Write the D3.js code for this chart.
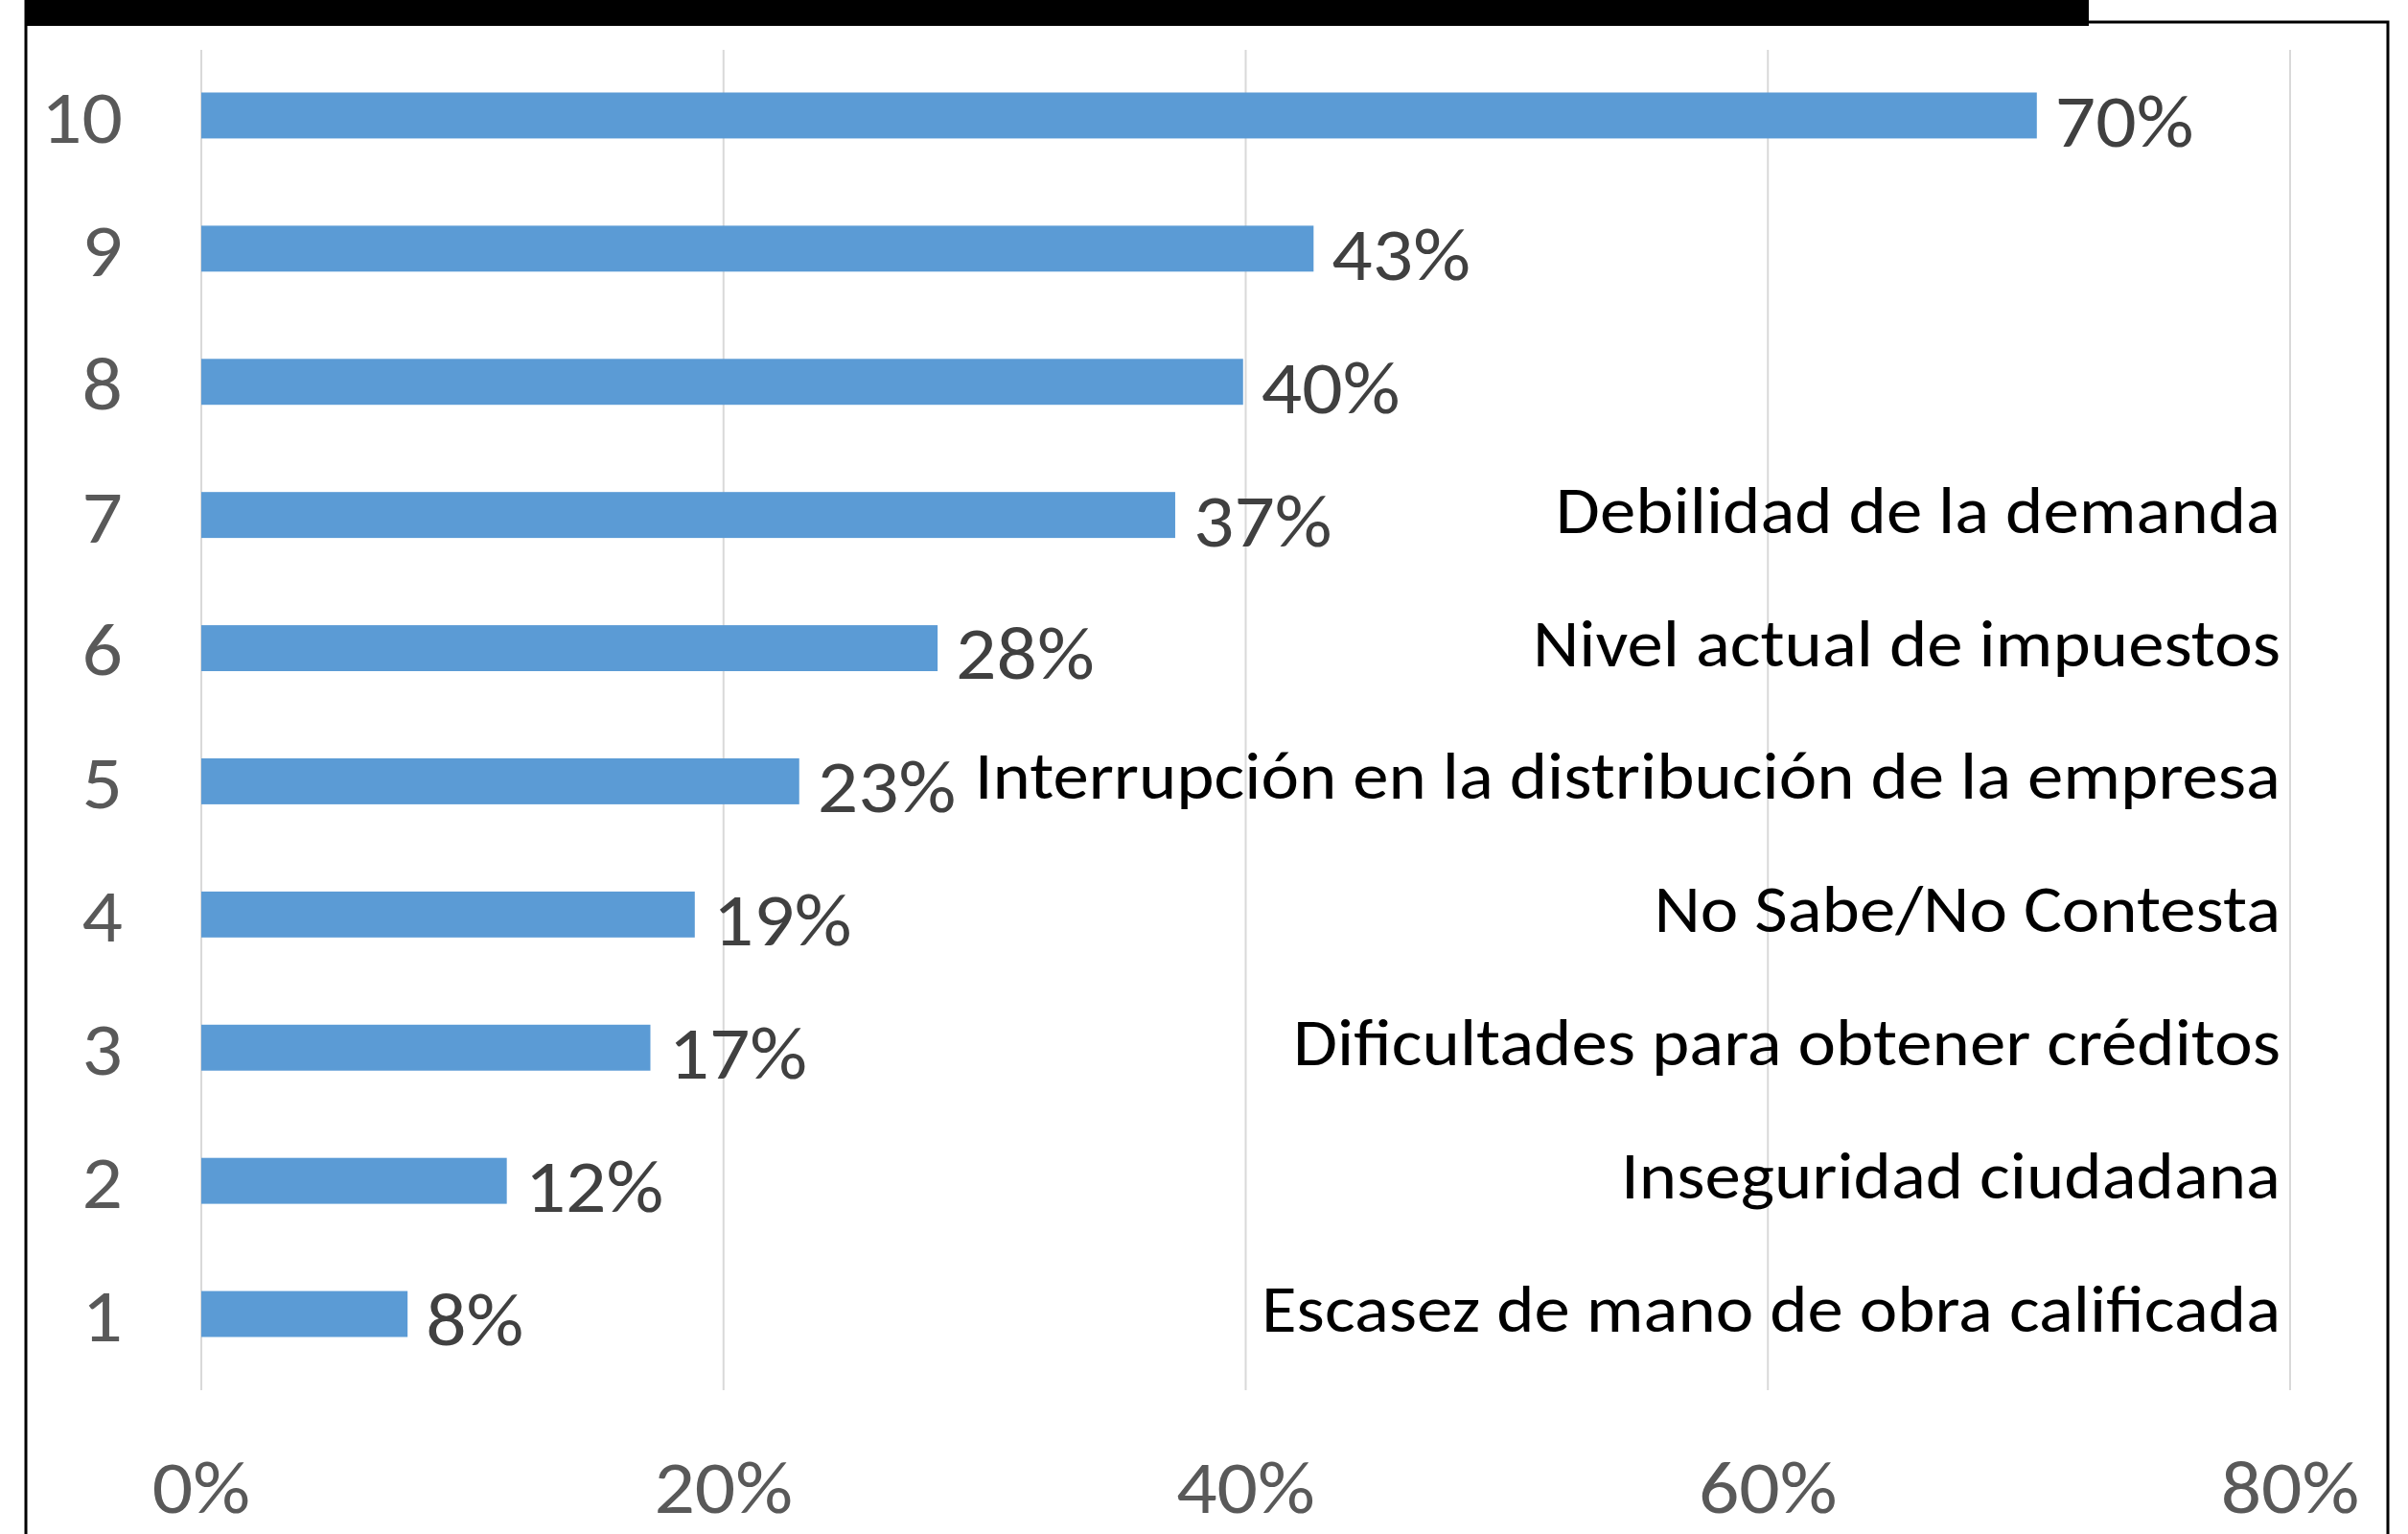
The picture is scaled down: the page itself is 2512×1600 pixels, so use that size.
<!DOCTYPE html>
<html><head><meta charset="utf-8">
<script src="https://cdn.jsdelivr.net/npm/d3@7"></script>
<style>
html,body{margin:0;padding:0;background:#fff;}
svg{display:block;}
text{font-family:Carlito,Calibri,Lato,sans-serif;}
</style></head>
<body>
<script>
const categories = ["1","2","3","4","5","6","7","8","9","10"];
const values = [0.079,0.117,0.172,0.189,0.229,0.282,0.373,0.399,0.426,0.703];
const valueLabels = ["8%","12%","17%","19%","23%","28%","37%","40%","43%","70%"];
const factorLabels = [
  "Escasez de mano de obra calificada",
  "Inseguridad ciudadana",
  "Dificultades para obtener créditos",
  "No Sabe/No Contesta",
  "Interrupción en la distribución de la empresa",
  "Nivel actual de impuestos",
  "Debilidad de la demanda"
];
const tickValues = [0,0.2,0.4,0.6,0.8];
const tickLabels = ["0%","20%","40%","60%","80%"];

const W = 2512, H = 1600;
const svg = d3.select("body").append("svg").attr("width",W).attr("height",H);

const x = d3.scaleLinear().domain([0,0.8]).range([210,2389]);
const y = d3.scaleBand().domain(categories.slice().reverse()).range([51,1440])
  .paddingInner(0.655).paddingOuter(0.3275);
const yc = d => y(d) + y.bandwidth()/2;

// frame
svg.append("rect").attr("x",27).attr("y",0).attr("width",2152).attr("height",27).attr("fill","#000");
svg.append("path").attr("d","M2179,23 H2491 V1600 M27,0 V1600").attr("fill","none").attr("stroke","#000").attr("stroke-width",3);

// gridlines
svg.append("g").selectAll("line").data(tickValues).join("line")
  .attr("x1",d=>x(d)).attr("x2",d=>x(d)).attr("y1",52).attr("y2",1450)
  .attr("stroke","#d9d9d9").attr("stroke-width",2);

// bars
svg.append("g").selectAll("rect").data(categories).join("rect")
  .attr("x",x(0)).attr("y",(d)=>y(d))
  .attr("width",(d,i)=>x(values[i])-x(0)).attr("height",y.bandwidth())
  .attr("fill","#5b9bd5");

const fs = 79, sx = 1.06;
// y axis labels
svg.append("g").selectAll("text").data(categories).join("text")
  .attr("transform",d=>`translate(128,${yc(d) + fs*0.36}) scale(${sx},1)`)
  .attr("text-anchor","end").attr("font-size",fs).attr("fill","#595959").text(d=>d);

// value labels
svg.append("g").selectAll("text").data(categories).join("text")
  .attr("transform",(d,i)=>`translate(${x(values[i])+19},${yc(d) + 4 + fs*0.36}) scale(${sx},1)`)
  .attr("font-size",fs).attr("fill","#404040").text((d,i)=>valueLabels[i]);

// x axis tick labels
const xAxis = d3.axisBottom(x).tickValues(tickValues).tickFormat((d,i)=>tickLabels[i]).tickSize(0).tickPadding(0);
const gx = svg.append("g").attr("transform","translate(0,1578)").call(xAxis);
gx.select(".domain").remove();
gx.selectAll("text").attr("dy",0).attr("font-size",fs).attr("fill","#595959")
  .attr("transform",`scale(${sx},1)`)
  .style("font-family","Carlito,Calibri,Lato,sans-serif");
gx.selectAll(".tick").each(function(d){
  d3.select(this).attr("transform",`translate(${x(d)},0)`);
});

// factor labels
const fs2 = 70, sx2 = 1.07;
svg.append("g").selectAll("text").data(factorLabels).join("text")
  .attr("transform",(d,i)=>`translate(2379,${yc(categories[i]) - 6 + fs2*0.35}) scale(${sx2},1)`)
  .attr("text-anchor","end").attr("font-size",fs2).attr("fill","#000").text(d=>d);
</script>
</body></html>
